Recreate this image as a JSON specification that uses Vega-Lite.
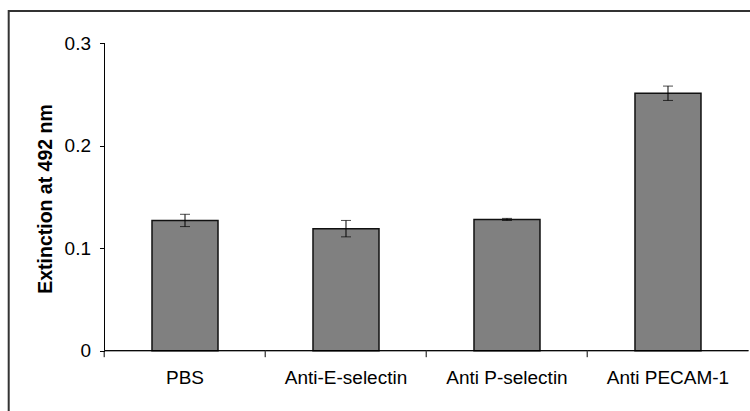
{
  "$schema": "https://vega.github.io/schema/vega-lite/v6.json",
  "width": 745,
  "height": 403,
  "autosize": "none",
  "padding": {"left": 8.7, "top": 11, "right": 0, "bottom": 0},
  "background": "white",
  "config": {
    "view": {"stroke": "#333333", "strokeWidth": 2},
    "font": "Liberation Sans"
  },
  "data": {
    "values": [
      {"cat": "PBS", "value": 0.127, "lo": 0.121, "hi": 0.133},
      {"cat": "Anti-E-selectin", "value": 0.119, "lo": 0.111, "hi": 0.127},
      {"cat": "Anti P-selectin", "value": 0.128, "lo": 0.127, "hi": 0.129},
      {"cat": "Anti PECAM-1", "value": 0.251, "lo": 0.244, "hi": 0.258}
    ]
  },
  "encoding": {
    "x": {
      "field": "cat",
      "type": "nominal",
      "sort": null,
      "scale": {"paddingInner": 0, "paddingOuter": 0.3137, "align": 0.9485},
      "axis": {
        "orient": "bottom",
        "offset": -63.3,
        "domain": false,
        "bandPosition": 0,
        "ticks": true,
        "tickSize": 6,
        "tickColor": "black",
        "tickWidth": 1,
        "labelAngle": 0,
        "labelFontSize": 19,
        "labelColor": "black",
        "labelPadding": 12,
        "grid": false,
        "title": null
      }
    }
  },
  "layer": [
    {
      "mark": {"type": "bar", "fill": "#808080", "stroke": "#111111", "strokeWidth": 1.5, "width": {"band": 0.41}},
      "encoding": {
        "y": {
          "field": "value",
          "type": "quantitative",
          "scale": {"domain": [-0.06172, 0.3312], "nice": false, "zero": false},
          "axis": {
            "values": [0, 0.1, 0.2, 0.3],
            "format": "~g",
            "offset": -95.8,
            "domain": false,
            "ticks": true,
            "tickSize": 5,
            "tickColor": "black",
            "tickWidth": 1,
            "labelFontSize": 19,
            "labelColor": "black",
            "labelPadding": 9,
            "grid": false,
            "title": "Extinction at 492 nm",
            "titleFontSize": 19.5,
            "titleFontWeight": "bold",
            "titleColor": "black",
            "titlePadding": 9,
            "titleY": 187.5
          }
        },
        "y2": {"datum": 0}
      }
    },
    {
      "mark": {"type": "rule", "color": "black", "strokeWidth": 1},
      "encoding": {
        "y": {"field": "lo", "type": "quantitative", "title": "Extinction at 492 nm"},
        "y2": {"field": "hi"}
      }
    },
    {
      "mark": {"type": "tick", "orient": "horizontal", "color": "black", "size": 10, "thickness": 1},
      "encoding": {
        "y": {"field": "lo", "type": "quantitative", "title": "Extinction at 492 nm"}
      }
    },
    {
      "mark": {"type": "tick", "orient": "horizontal", "color": "black", "size": 10, "thickness": 1},
      "encoding": {
        "y": {"field": "hi", "type": "quantitative", "title": "Extinction at 492 nm"}
      }
    },
    {
      "mark": {"type": "bar", "fill": null, "stroke": "black", "strokeWidth": 1, "width": {"band": 1}},
      "encoding": {
        "y": {"datum": 0, "type": "quantitative"},
        "y2": {"datum": 0}
      }
    },
    {
      "transform": [{"filter": "datum.cat == 'PBS'"}],
      "mark": {"type": "rule", "color": "black", "strokeWidth": 1},
      "encoding": {
        "x": {"field": "cat", "type": "nominal", "sort": null, "bandPosition": 0},
        "y": {"datum": 0, "type": "quantitative"},
        "y2": {"datum": 0.3}
      }
    }
  ]
}
